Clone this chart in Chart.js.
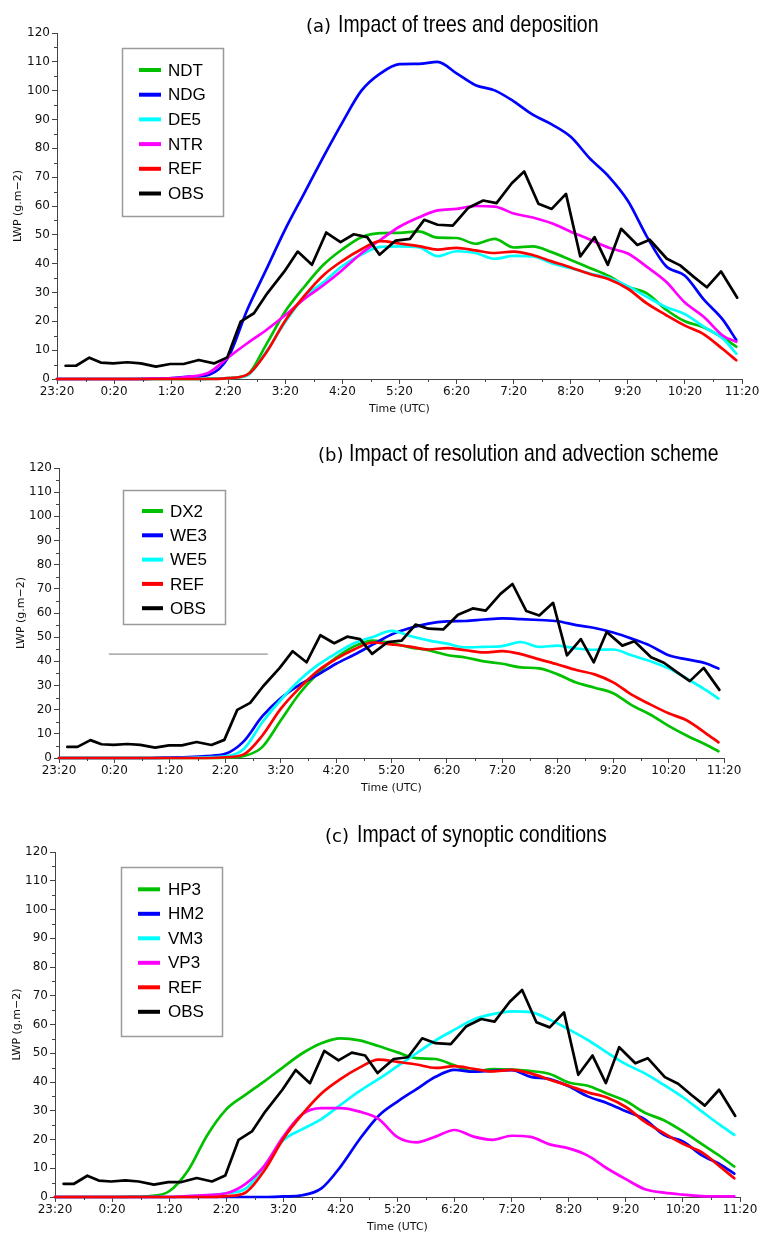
<!DOCTYPE html>
<html>
<head>
<meta charset="utf-8">
<script src="https://cdn.jsdelivr.net/npm/chart.js@4.4.0/dist/chart.umd.min.js"></script>
<style>
  html, body { margin: 0; padding: 0; background: #fff; }
  #page { position: relative; width: 761px; height: 1235px; overflow: hidden; }
  #page canvas { position: absolute; left: 0; }
</style>
</head>
<body>
<div id="page">
  <canvas id="panelA" width="761" height="420" style="top:0px"></canvas>
  <canvas id="panelB" width="761" height="380" style="top:420px"></canvas>
  <canvas id="panelC" width="761" height="435" style="top:800px"></canvas>
</div>
<script>
// ---- time axes: minutes after 23:20 UTC ----
const modelMinutes = [0, 20, 40, 60, 80, 100, 120, 140, 160, 180, 200, 220, 240, 260, 280, 300,
  320, 340, 360, 380, 400, 420, 440, 460, 480, 500, 520, 540, 560, 580, 600, 620, 640, 660, 680, 700, 714];

const obsMinutes = [9, 20, 34, 46, 59, 74, 88, 104, 119, 133, 149, 165, 179, 193, 207, 221, 239, 253,
  268, 283, 298, 312, 326, 339, 356, 371, 386, 400, 416, 432, 448, 462, 478, 491, 506, 520, 535, 550,
  565, 579, 593, 610, 623, 641, 655, 669, 683, 698, 715];

// ---- liquid water path (g m-2) ----
const obsLWP = [4.6, 4.6, 7.4, 5.7, 5.4, 5.8, 5.4, 4.3, 5.2, 5.2, 6.6, 5.4, 7.5, 19.9, 22.8, 29.7, 37.3,
  44.2, 39.6, 50.8, 47.5, 50.2, 49.2, 43.1, 48.0, 48.6, 55.2, 53.5, 53.2, 59.3, 61.9, 61.0, 67.9, 72.0,
  60.8, 59.0, 64.2, 42.5, 49.2, 39.6, 52.1, 46.5, 48.3, 41.7, 39.4, 35.5, 31.8, 37.3, 28.2];

const refLWP = [0, 0, 0, 0, 0, 0, 0, 0, 0, 0.3, 1.5, 9.2, 20.3, 28.8, 36, 41, 45, 47.8, 47, 46.1, 44.9,
  45.5, 44.6, 43.7, 44.2, 43, 40.8, 38.7, 36.4, 34.6, 31.3, 26.2, 22.2, 18.5, 15.5, 10.3, 6.5];

// (a) trees and deposition
const ndtLWP = [0, 0, 0, 0, 0, 0, 0, 0, 0.1, 0.3, 1.5, 12, 23.5, 32, 39.6, 45, 49.2, 50.6, 50.7, 51.2,
  49, 48.9, 46.9, 48.6, 45.6, 46, 44, 41.3, 38.5, 35.7, 32, 29.7, 24.1, 20, 17.9, 14.3, 11.2];
const ndgLWP = [0, 0, 0, 0, 0, 0.1, 0.3, 0.8, 1.5, 7.5, 24, 38, 52, 64.5, 77, 89, 100, 106, 109.2, 109.3,
  110, 106, 101.9, 100.1, 96.3, 91.7, 88.3, 84, 76.5, 70.2, 61.8, 49.4, 39.2, 35.8, 27.5, 20.5, 13.5];
const de5LWP = [0, 0, 0, 0, 0, 0, 0, 0, 0, 0.3, 1.2, 9.5, 19.8, 28.5, 33.5, 39.2, 43.2, 45.8, 46, 45.7,
  42.6, 44.3, 43.7, 41.7, 42.7, 42.5, 40.2, 38.4, 36.6, 35, 32.2, 28.5, 25, 22.5, 18.1, 14, 8.8];
const ntrLWP = [0, 0, 0, 0, 0, 0.1, 0.2, 0.8, 2.3, 7.5, 12.4, 17, 22.2, 27.8, 32.5, 37.8, 43.6, 48.3,
  52.8, 56, 58.5, 59, 60, 59.8, 57.4, 56, 54, 51.1, 48.4, 45.5, 43.5, 38.9, 33.8, 26.5, 21.5, 15, 12.9];

// (b) resolution and advection scheme
const dx2LWP = [0, 0, 0, 0, 0, 0, 0, 0, 0, 0.1, 0.8, 4.5, 15.5, 26.5, 35, 41.5, 46.3, 48.6, 47.6, 45.8,
  44.6, 42.6, 41.6, 40, 39, 37.5, 37.1, 34.6, 31.2, 29.1, 26.8, 21.9, 18, 13.3, 9.2, 5.6, 2.8];
const we3LWP = [0, 0, 0, 0, 0, 0, 0.2, 0.4, 0.8, 1.7, 6.9, 17.2, 24.7, 30.2, 34.4, 39, 42.8, 47, 51.1,
  53.8, 55.6, 56.5, 56.7, 57.3, 57.8, 57.5, 57.1, 56.6, 55, 53.8, 51.9, 49.4, 46.5, 42.5, 40.8, 39.2, 37];
const we5LWP = [0, 0, 0, 0, 0, 0, 0, 0.1, 0.3, 0.7, 3.7, 14.7, 24, 32.1, 38.4, 43.3, 47.6, 50.1, 52.6,
  50.5, 48.7, 47.3, 45.8, 46, 46.3, 48, 46, 46.5, 45.3, 44.8, 44.9, 42.5, 40.1, 37.1, 32.8, 28.2, 24.6];
// thin guide segment drawn in panel (b)
const guideMinutes = [54, 226];
const guideLevel = 43;

// (c) synoptic conditions
const hp3LWP = [0, 0, 0, 0, 0.1, 0.3, 2, 9.3, 21.5, 30.5, 35.5, 40.2, 45.2, 50, 53.5, 55.2, 54.5, 52.5,
  50.3, 48.3, 48, 45.8, 43.6, 44.5, 44.3, 43.8, 42.8, 39.8, 38.7, 36, 33.4, 29.3, 26.7, 22.8, 18.4, 14, 10.6];
const hm2LWP = [0, 0, 0, 0, 0, 0, 0, 0, 0, 0, 0, 0, 0.2, 0.6, 3, 10.5, 20, 28.2, 33.2, 37.5, 41.8, 44.2,
  43.6, 43.9, 44.1, 41.8, 41, 38.5, 35, 32.7, 29.8, 27, 21.6, 19.3, 14.5, 11.2, 8.1];
const vm3LWP = [0, 0, 0, 0, 0, 0, 0, 0.3, 0.6, 1.3, 2.8, 10.6, 19.7, 23.6, 27.1, 32, 36.8, 41, 45.5,
  50, 54.5, 58.2, 61.7, 63.6, 64.6, 64.3, 61.7, 58.3, 54.6, 50.3, 46.2, 43, 39, 34.7, 29.7, 24.8, 21.6];
const vp3LWP = [0, 0, 0, 0, 0, 0, 0, 0.3, 0.7, 1.3, 4.5, 10.8, 21, 28.8, 30.9, 30.9, 29.7, 27.2, 20.8,
  19, 21, 23.3, 21, 19.9, 21.3, 20.9, 18.3, 16.9, 14.4, 10, 6.2, 2.7, 1.5, 0.8, 0.3, 0.2, 0.2];

const yTicks = [0, 10, 20, 30, 40, 50, 60, 70, 80, 90, 100, 110, 120];

// ---- colours ----
const C = { green: '#00c000', blue: '#0000ff', cyan: '#00ffff', magenta: '#ff00ff', red: '#ff0000', black: '#000000' };

function pairs(xs, ys) { return xs.map((x, i) => ({ x: x, y: ys[i] })); }

function series(label, color, xs, ys, smooth) {
  return {
    label: label, data: pairs(xs, ys), borderColor: color, backgroundColor: color,
    borderWidth: 2.7, pointRadius: 0, fill: false, clip: false,
    cubicInterpolationMode: smooth ? 'monotone' : 'default', tension: 0,
    borderJoinStyle: 'round', borderCapStyle: 'round'
  };
}

function clockLabel(m) {
  const t = (23 * 60 + 20 + m) % 1440;
  const h = Math.floor(t / 60), mm = t % 60;
  return h + ':' + String(mm).padStart(2, '0');
}

// framed legend inside the plot, one row per labelled dataset
const boxLegend = {
  id: 'boxLegend',
  afterDatasetsDraw(chart, args, o) {
    const ctx = chart.ctx;
    ctx.save();
    ctx.fillStyle = '#ffffff';
    ctx.fillRect(o.left, o.top, o.width, o.height);
    ctx.strokeStyle = '#9a9a9a';
    ctx.lineWidth = 1.5;
    ctx.strokeRect(o.left + 0.5, o.top + 0.5, o.width, o.height);
    const items = chart.data.datasets.filter(d => d.label);
    ctx.font = o.font;
    ctx.textBaseline = 'middle';
    ctx.textAlign = 'left';
    items.forEach((ds, i) => {
      const y = o.firstRow + i * o.rowGap;
      ctx.strokeStyle = ds.borderColor;
      ctx.lineWidth = 4;
      ctx.beginPath();
      ctx.moveTo(o.sampleStart, y);
      ctx.lineTo(o.sampleEnd, y);
      ctx.stroke();
      ctx.fillStyle = '#000';
      ctx.fillText(ds.label, o.textX, y + 1);
    });
    ctx.restore();
  }
};

// panel heading: tag in a round face, text in a condensed face
const panelHeading = {
  id: 'panelHeading',
  afterDraw(chart, args, o) {
    const ctx = chart.ctx;
    ctx.save();
    ctx.fillStyle = '#000';
    ctx.textBaseline = 'alphabetic';
    ctx.textAlign = 'left';
    ctx.font = '18px "DejaVu Sans"';
    ctx.fillText(o.tag, o.tagX, o.baseline);
    ctx.translate(o.textX, o.baseline);
    ctx.scale(o.squeeze, 1);
    ctx.font = '24px "Liberation Sans"';
    ctx.fillText(o.text, 0, 0);
    ctx.restore();
  }
};

// half-step ticks on both axes
const minorTicks = {
  id: 'minorTicks',
  afterDraw(chart) {
    const ctx = chart.ctx, xs = chart.scales.x, ys = chart.scales.y, a = chart.chartArea;
    ctx.save();
    ctx.strokeStyle = '#444';
    ctx.lineWidth = 1;
    ctx.beginPath();
    for (let v = 5; v < 120; v += 10) {
      const y = Math.round(ys.getPixelForValue(v)) + 0.5;
      ctx.moveTo(a.left, y); ctx.lineTo(a.left - 3, y);
    }
    for (let m = 30; m < 720; m += 60) {
      const x = Math.round(xs.getPixelForValue(m)) + 0.5;
      ctx.moveTo(x, a.bottom); ctx.lineTo(x, a.bottom + 3);
    }
    ctx.stroke();
    ctx.restore();
  }
};

function buildChart(id, datasets, geo, legend, heading) {
  datasets.forEach((d, i) => { d.order = datasets.length - i; });
  const tickFont = { family: 'DejaVu Sans', size: 12 };
  return new Chart(document.getElementById(id), {
    type: 'line',
    data: { datasets: datasets },
    plugins: [minorTicks, boxLegend, panelHeading],
    options: {
      responsive: false, animation: false, events: [],
      layout: { autoPadding: false, padding: { top: geo.top, right: geo.right, left: 0, bottom: 0 } },
      plugins: {
        legend: { display: false }, tooltip: { enabled: false },
        boxLegend: legend, panelHeading: heading
      },
      scales: {
        x: {
          type: 'linear', min: 0, max: 720,
          afterBuildTicks: s => { s.ticks = modelMinutes.filter(m => m % 60 === 0).map(m => ({ value: m })).concat([{ value: 720 }]); },
          ticks: { callback: v => clockLabel(v), font: tickFont, color: '#111', padding: 1, maxRotation: 0, autoSkip: false },
          grid: { drawOnChartArea: false, drawTicks: true, tickLength: 5, color: '#444' },
          border: { display: true, color: '#444', width: 1 },
          title: { display: true, text: 'Time (UTC)', font: { family: 'DejaVu Sans', size: 11 }, color: '#111', padding: { top: 0, bottom: geo.xTitlePad } },
          afterFit: s => { s.height = geo.xHeight; s.paddingLeft = 0; s.paddingRight = 0; }
        },
        y: {
          type: 'linear', min: 0, max: 120,
          afterBuildTicks: s => { s.ticks = yTicks.map(v => ({ value: v })); },
          ticks: { font: tickFont, color: '#111', padding: 2, autoSkip: false },
          grid: { drawOnChartArea: false, drawTicks: true, tickLength: 5, color: '#444' },
          border: { display: true, color: '#444', width: 1 },
          title: { display: true, text: 'LWP (g.m\u22122)', font: { family: 'DejaVu Sans', size: 11 }, color: '#111', padding: { top: geo.yTitlePad, bottom: 0 } },
          afterFit: s => { s.width = geo.left; s.paddingTop = 0; s.paddingBottom = 0; }
        }
      }
    }
  });
}

const legendFont = '17px "Liberation Sans"';

buildChart('panelA', [
  series('NDT', C.green, modelMinutes, ndtLWP, true),
  series('NDG', C.blue, modelMinutes, ndgLWP, true),
  series('DE5', C.cyan, modelMinutes, de5LWP, true),
  series('NTR', C.magenta, modelMinutes, ntrLWP, true),
  series('REF', C.red, modelMinutes, refLWP, true),
  series('OBS', C.black, obsMinutes, obsLWP, false)
], { top: 33, right: 19, left: 57, xHeight: 41, xTitlePad: 4, yTitlePad: 12 },
{ left: 122, top: 48, width: 101, height: 168, firstRow: 70, rowGap: 24.7, sampleStart: 139, sampleEnd: 161, textX: 168, font: legendFont },
{ tag: '(a)', tagX: 306, textX: 338, baseline: 32, squeeze: 0.81, text: 'Impact of trees and deposition' });

const guide = series('', '#777777', guideMinutes, guideMinutes.map(() => guideLevel), false);
guide.borderWidth = 1;
guide.borderCapStyle = 'butt';

buildChart('panelB', [
  series('DX2', C.green, modelMinutes, dx2LWP, true),
  series('WE3', C.blue, modelMinutes, we3LWP, true),
  series('WE5', C.cyan, modelMinutes, we5LWP, true),
  series('REF', C.red, modelMinutes, refLWP, true),
  series('OBS', C.black, obsMinutes, obsLWP, false),
  guide
], { top: 48, right: 37, left: 59, xHeight: 42, xTitlePad: 5, yTitlePad: 15 },
{ left: 123, top: 70, width: 102, height: 134, firstRow: 91, rowGap: 24.3, sampleStart: 142, sampleEnd: 163, textX: 170, font: legendFont },
{ tag: '(b)', tagX: 318, textX: 349, baseline: 40.5, squeeze: 0.81, text: 'Impact of resolution and advection scheme' });

buildChart('panelC', [
  series('HP3', C.green, modelMinutes, hp3LWP, true),
  series('HM2', C.blue, modelMinutes, hm2LWP, true),
  series('VM3', C.cyan, modelMinutes, vm3LWP, true),
  series('VP3', C.magenta, modelMinutes, vp3LWP, true),
  series('REF', C.red, modelMinutes, refLWP, true),
  series('OBS', C.black, obsMinutes, obsLWP, false)
], { top: 52, right: 21, left: 55, xHeight: 38, xTitlePad: 1, yTitlePad: 11 },
{ left: 121, top: 67, width: 101, height: 169, firstRow: 89.3, rowGap: 24.5, sampleStart: 138, sampleEnd: 160, textX: 168, font: legendFont },
{ tag: '(c)', tagX: 325, textX: 357, baseline: 41.5, squeeze: 0.81, text: 'Impact of synoptic conditions' });
</script>
</body>
</html>
